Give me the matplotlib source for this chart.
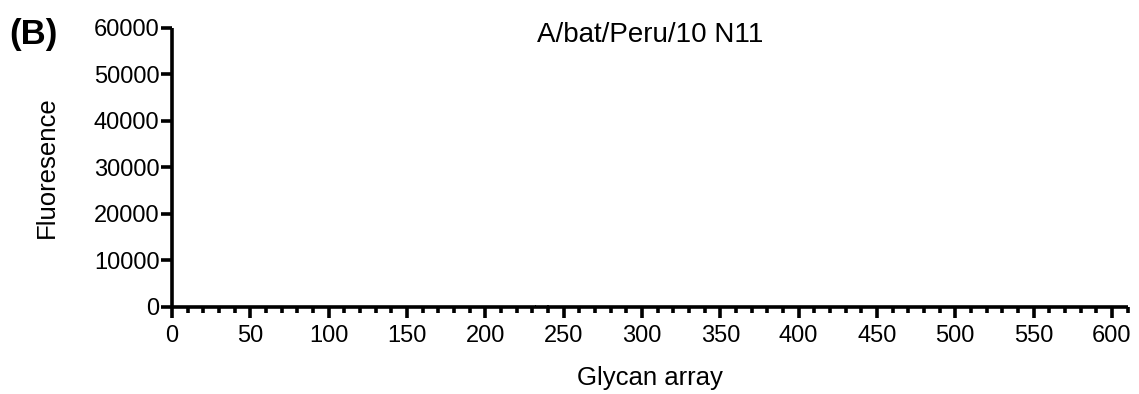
import matplotlib
matplotlib.use('Agg')
import matplotlib.pyplot as plt
from matplotlib.ticker import MultipleLocator

# data (almost no binding)
glycan_ids = [36, 202, 232, 240, 246, 255, 312]
fluorescence = [300, 250, 400, 350, 300, 250, 300]

title = "A/bat/Peru/10 N11"
yticks = [0, 10000, 20000, 30000, 40000, 50000, 60000]
xticks = [0, 50, 100, 150, 200, 250, 300, 350, 400, 450, 500, 550, 600]

plt.rcParams['font.family'] = ['Liberation Sans', 'DejaVu Sans']

fig = plt.figure(figsize=(11.39, 3.94), dpi=100)
ax = fig.add_axes([0.151, 0.221, 0.839, 0.708])

ax.bar(glycan_ids, fluorescence, width=1.0, color='black')

ax.set_xlim(0, 610)
ax.set_ylim(0, 60000)
ax.set_yticks(yticks)
ax.set_yticklabels([str(v) for v in yticks])
ax.set_xticks(xticks)
ax.xaxis.set_minor_locator(MultipleLocator(10))

for side in ['top', 'right']:
    ax.spines[side].set_visible(False)
for side in ['left', 'bottom']:
    ax.spines[side].set_linewidth(2.6)
    ax.spines[side].set_capstyle('butt')

ax.tick_params(axis='both', which='major', direction='out', length=8, width=2.6,
               labelsize=17)
ax.tick_params(axis='x', which='major', pad=5)
ax.tick_params(axis='y', which='major', pad=1)
ax.tick_params(axis='x', which='minor', direction='out', length=4.5, width=2.6)

ax.set_xlabel("Glycan array", fontsize=18.5, labelpad=14)
ax.set_ylabel("Fluoresence", fontsize=18.5, labelpad=25)
ax.text(0.5, 1.022, title, transform=ax.transAxes, ha='center', va='top', fontsize=20)
fig.text(0.008, 0.955, "(B)", fontsize=25, fontweight='bold', ha='left', va='top')

plt.savefig("out.png", dpi=100)
